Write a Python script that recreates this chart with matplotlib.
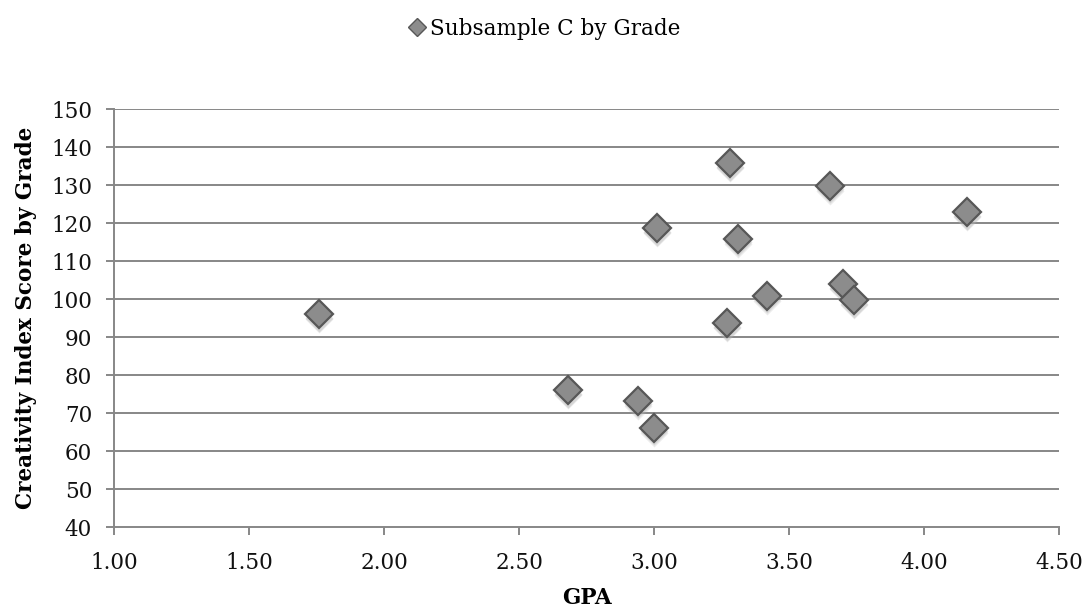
import matplotlib
matplotlib.use("Agg")
import matplotlib.pyplot as plt
from matplotlib.lines import Line2D
import matplotlib.transforms as mtransforms

gpa = [1.76, 2.68, 2.94, 3.00, 3.01, 3.27, 3.28, 3.31, 3.42, 3.65, 3.70, 3.74, 4.16]
score = [96.1, 76.0, 73.3, 66.2, 118.7, 93.7, 135.8, 115.9, 100.9, 129.9, 104.0, 99.8, 122.9]
series_name = "Subsample C by Grade"
x_ticks = [1.00, 1.50, 2.00, 2.50, 3.00, 3.50, 4.00, 4.50]
y_ticks = [40, 50, 60, 70, 80, 90, 100, 110, 120, 130, 140, 150]

plt.rcParams['font.family'] = ['DejaVu Serif']

fig = plt.figure(figsize=(10.86, 6.16), dpi=100)
ax = fig.add_axes([0.1052, 0.144, 0.9751 - 0.1052, 0.8226 - 0.144])

gc = '#878787'
ax.set_xlim(1.0, 4.5)
ax.set_ylim(40, 150)
ax.set_xticks(x_ticks)
ax.set_xticklabels([f"{v:.2f}" for v in x_ticks])
ax.set_yticks(y_ticks)
ax.set_yticklabels([str(v) for v in y_ticks])

for v in y_ticks[1:]:
    ax.axhline(v, color=gc, lw=1.4, zorder=1)

for s in ['top', 'right']:
    ax.spines[s].set_visible(False)
for s in ['left', 'bottom']:
    ax.spines[s].set_color(gc)
    ax.spines[s].set_linewidth(1.4)

ax.tick_params(axis='both', direction='out', length=6, width=1.4, color=gc,
               labelsize=15.5, labelcolor='#111111')
ax.tick_params(axis='y', pad=10)
ax.tick_params(axis='x', pad=12)

# soft shadow below markers
for dy, a in [(5, 0.25), (3.5, 0.35)]:
    off = mtransforms.ScaledTranslation(0, -dy / 100, fig.dpi_scale_trans)
    ax.plot(gpa, score, linestyle='none', marker='D', markersize=14,
            markerfacecolor='#b0b0b0', markeredgecolor='none', alpha=a,
            zorder=2, clip_on=False, transform=ax.transData + off)
ax.plot(gpa, score, linestyle='none', marker='D', markersize=14,
        markerfacecolor='#8c8c8c', markeredgecolor='#575757', markeredgewidth=1.6,
        zorder=3, clip_on=False)

ax.set_xlabel("GPA", fontsize=15.5, fontweight='bold', labelpad=9)
ax.set_ylabel("Creativity Index Score by Grade", fontsize=15.5, fontweight='bold', labelpad=10)

handle = Line2D([], [], linestyle='none', marker='D', markersize=9,
                markerfacecolor='#8c8c8c', markeredgecolor='#575757', markeredgewidth=1.0)
fig.legend([handle], [series_name], loc='center', bbox_to_anchor=(0.5, 1 - 29/616),
           frameon=False, fontsize=15.5, handletextpad=0.1, handlelength=1.0)

fig.savefig("out.png", dpi=100, facecolor='white')
